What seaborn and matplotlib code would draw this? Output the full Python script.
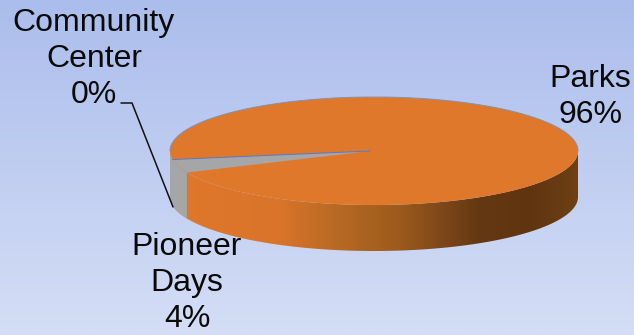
import numpy as np
import matplotlib
matplotlib.use("Agg")
import matplotlib.pyplot as plt
from matplotlib.patches import Polygon
import seaborn as sns

categories = ["Parks", "Pioneer Days", "Community Center"]
values = [96, 4, 0]
label_texts = ["Parks\n96%", "Pioneer\nDays\n4%", "Community\nCenter\n0%"]
colors = ["#e0782b", "#a4a6a8", "#a4a6a8"]
start_angle = 203.5

sns.set_theme(style="white")
plt.rcParams["font.family"] = ["Liberation Sans", "DejaVu Sans"]

W, H = 634, 335
fig = plt.figure(figsize=(W / 100, H / 100), dpi=100)
ax = fig.add_axes([0, 0, 1, 1])

# pie geometry in pixels
cx, cy, rx, ry, depth = 374.0, 151.0, 204.0, 54.0, 46.0

def rim(t0, t1, dy=0.0, n=200):
    t = np.radians(np.linspace(t0, t1, n))
    return np.column_stack([cx + rx * np.cos(t), cy - ry * np.sin(t) + dy])

# background
bg = sns.blend_palette(["#abbdec", "#d5def6"], 256)
ax.imshow(np.array(bg)[:, None, :], extent=[0, W, H, 0], aspect="auto", zorder=0)

sweeps = np.array(values, dtype=float) / sum(values) * 360
a0 = start_angle
bounds = {}
for name, s in zip(categories, sweeps):
    bounds[name] = (a0, a0 + s)
    a0 += s

# side wall with horizontal shading
wall = Polygon(np.vstack([rim(180, 360), rim(360, 180, depth)]), closed=True,
               fc="none", ec="none", transform=ax.transData, zorder=1)
ax.add_patch(wall)
xs = np.array([170, 280, 335, 400, 440, 480, 530, 578])
stops = ["#e0782b", "#d9742a", "#b86a24", "#9c5a1c", "#80481a", "#643812", "#5f3510", "#6e4014"]
grid = np.linspace(170, 578, 409)
rgb = np.array(sns.color_palette(stops))
shade = np.column_stack([np.interp(grid, xs, rgb[:, i]) for i in range(3)])
im = ax.imshow(shade[None, :, :], extent=[170, 578, 260, 90], aspect="auto", zorder=1)
im.set_clip_path(wall)

# grey part of the wall around the small slices
p_start = bounds["Parks"][1] - 360
p_end = start_angle
ax.add_patch(Polygon(np.vstack([rim(180, p_end), rim(p_end, 180, depth)]), closed=True,
                     fc=colors[1], ec="none", zorder=2))

# top face
ax.add_patch(Polygon(rim(0, 360), closed=True, fc=colors[0], ec="none", zorder=3))
upper = rim(0, 180)
ax.plot(upper[:, 0], upper[:, 1], color="#8a8fa8", lw=0.7, zorder=3)
ax.add_patch(Polygon(np.vstack([[[cx - 4, cy]], rim(p_start, p_end, n=30)]), closed=True,
                     fc=colors[1], ec="none", zorder=4))
edge = rim(p_start, p_start, n=1)[0]
ax.plot([cx - 4, edge[0]], [cy, edge[1]], color="#5b78c8", lw=0.7, zorder=5)

# labels
font = 23
spacing = 1.27
ax.text(590, 97, label_texts[0], ha="center", va="center", fontsize=font,
        color="#0a0a0a", linespacing=spacing, zorder=6)
ax.text(187, 283, label_texts[1], ha="center", va="center", fontsize=font,
        color="#0a0a0a", linespacing=spacing, zorder=6)
ax.text(94, 59, label_texts[2], ha="center", va="center", fontsize=font,
        color="#0a0a0a", linespacing=spacing, zorder=6)
ax.plot([121, 132, 173], [103, 103, 207], color="#111111", lw=1.1, zorder=6)

ax.set_xlim(0, W)
ax.set_ylim(H, 0)
ax.axis("off")
fig.savefig("out.png", dpi=100)
